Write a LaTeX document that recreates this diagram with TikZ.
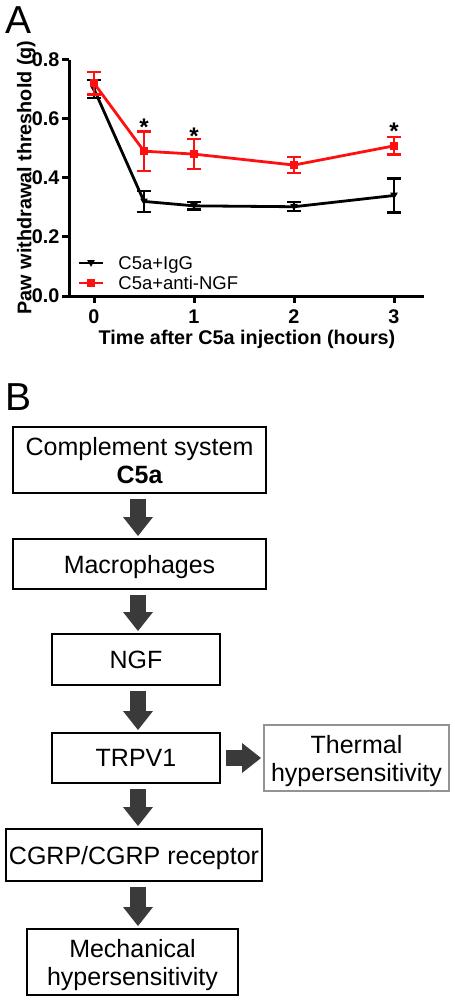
\documentclass[tikz,border=0pt]{standalone}
\usepackage{fontspec}
\setmainfont{Liberation Sans}
\usepackage{tikz}
\usetikzlibrary{
    arrows.meta,
    calc,
    positioning,
}
\definecolor{arrowgray}{HTML}{3A3A3A}
\definecolor{plotred}{HTML}{FF1010}

\begin{document}
\begin{tikzpicture}[x=0.5pt,y=-0.5pt]

    \tikzstyle{panelLabel}=[font=\fontsize{19.5}{21}\selectfont, inner sep=0pt, anchor=base west]
    \tikzstyle{axisText}=[font=\bfseries\fontsize{9.9}{11}\selectfont, inner sep=0pt]
    \tikzstyle{starText}=[font=\bfseries\fontsize{12}{13}\selectfont, inner sep=0pt, anchor=base]
    \tikzstyle{legendText}=[font=\fontsize{9.25}{11}\selectfont, inner sep=0pt, anchor=base west]
    \tikzstyle{axisLine}=[line width=1.5pt]
    \tikzstyle{series}=[line width=1.4pt, line join=round]
    \tikzstyle{errBar}=[line width=1.15pt]
    \tikzstyle{box}=[draw=black, line width=1pt, align=center, inner sep=0pt, text depth=0pt, font=\fontsize{12.5}{14}\selectfont]
    \tikzstyle{sideBox}=[box, draw=gray!85]
    \tikzstyle{flow}=[draw=arrowgray, line width=8pt, -{Triangle[width=15pt,length=9.5pt,line width=0pt]}, shorten <=2.5pt, shorten >=1pt]

    \useasboundingbox (0,0) rectangle (455,1001);

    % Panel labels
    \node at (5,33)  [panelLabel] (labA) {A};
    \node at (5,410) [panelLabel] (labB) {B};

    % Panel A: the plot
    \begin{scope}[shift={(94,296)}, x=50pt, y=147.8pt]
        \def \xmin {-0.25}
        \def \xmax {3.3}

        % Axes
        \draw[axisLine] (\xmin,0.8) -- (\xmin,0) -- (\xmax,0);
        \foreach \tick in {0.0,0.2,0.4,0.6,0.8}
            \draw[axisLine] (\xmin,\tick) -- ++(-3.5pt,0) node[axisText, anchor=east, xshift=-0.5pt] {\tick};
        \foreach \hr in {0,1,2,3}
            \draw[axisLine] (\hr,0) -- ++(0,-3.5pt) node[axisText, anchor=north, yshift=-2.5pt] {\hr};

        % C5a+IgG
        \draw[series] (0,0.70) -- (0.5,0.32) -- (1,0.305) -- (2,0.302) -- (3,0.34);
        \foreach \hr/\val/\err in {0/0.70/0.03, 0.5/0.32/0.036, 1/0.305/0.012, 2/0.302/0.015, 3/0.34/0.057} {
            \draw[errBar] (\hr,\val-\err) -- (\hr,\val+\err);
            \draw[errBar] ([xshift=-3.5pt]\hr,\val+\err) -- ([xshift=3.5pt]\hr,\val+\err);
            \draw[errBar] ([xshift=-3.5pt]\hr,\val-\err) -- ([xshift=3.5pt]\hr,\val-\err);
            \fill ([shift={(-1.9pt,1.4pt)}]\hr,\val) -- ++(3.8pt,0) -- ++(-1.9pt,-3.3pt) -- cycle;
        }

        % C5a+anti-NGF
        \draw[series, plotred] (0,0.72) -- (0.5,0.49) -- (1,0.48) -- (2,0.443) -- (3,0.508);
        \foreach \hr/\val/\err in {0/0.72/0.038, 0.5/0.49/0.067, 1/0.48/0.05, 2/0.443/0.028, 3/0.508/0.029} {
            \draw[errBar, plotred] (\hr,\val-\err) -- (\hr,\val+\err);
            \draw[errBar, plotred] ([xshift=-3.5pt]\hr,\val+\err) -- ([xshift=3.5pt]\hr,\val+\err);
            \draw[errBar, plotred] ([xshift=-3.5pt]\hr,\val-\err) -- ([xshift=3.5pt]\hr,\val-\err);
            \fill[plotred] ([shift={(-2pt,-2pt)}]\hr,\val) rectangle ++(4pt,4pt);
        }

        % Significance
        \node at (0.5,0.543) [starText] (star1) {*};
        \node at (1,0.511)   [starText] (star2) {*};
        \node at (3,0.531)   [starText] (star3) {*};
    \end{scope}

    % Axis titles
    \node at (31.5,177.5) [axisText, rotate=90, anchor=base] (ytitle) {Paw withdrawal threshold (g)};
    \node at (247,344)    [axisText, anchor=base]            (xtitle) {Time after C5a injection (hours)};

    % Legend
    \draw[series] (79,263) -- (103,263);
    \fill ([shift={(-1.9pt,1.4pt)}]91,263) -- ++(3.8pt,0) -- ++(-1.9pt,-3.3pt) -- cycle;
    \node at (118,269.6) [legendText] (legIgG) {C5a+IgG};
    \draw[series, plotred] (79,283) -- (103,283);
    \fill[plotred] ([shift={(-2pt,-2pt)}]91,283) rectangle ++(4pt,4pt);
    \node at (118,289.6) [legendText] (legNGF) {C5a+anti-NGF};

    % Panel B: the pathway
    \coordinate (spine) at (138,0);

    \node at (139.5,460) [box, minimum width=126.5pt, minimum height=33pt] (c5a)     {Complement system\\{\bfseries C5a}};
    \node at (139.5,564) [box, minimum width=126.5pt, minimum height=25pt] (mac)     {Macrophages};
    \node at (136,659.5) [box, minimum width=84pt,    minimum height=25.5pt] (ngf)   {NGF};
    \node at (136,758)   [box, minimum width=84pt,    minimum height=25pt] (trpv)    {TRPV1};
    \node at (356.5,758) [sideBox, minimum width=92.5pt, minimum height=33pt] (thermal) {Thermal\\hypersensitivity};
    \node at (134,855)   [box, minimum width=128pt,   minimum height=26pt] (cgrp)    {CGRP/CGRP receptor};
    \node at (132.5,962) [box, minimum width=105.5pt, minimum height=33pt] (mech)    {Mechanical\\hypersensitivity};

    \draw[flow] (c5a.south -| spine)  -- (mac.north -| spine);
    \draw[flow] (mac.south -| spine)  -- (ngf.north -| spine);
    \draw[flow] (ngf.south -| spine)  -- (trpv.north -| spine);
    \draw[flow] (trpv.south -| spine) -- (cgrp.north -| spine);
    \draw[flow] (cgrp.south -| spine) -- (mech.north -| spine);
    \draw[flow] (trpv.east) -- (thermal.west);

\end{tikzpicture}
\end{document}
